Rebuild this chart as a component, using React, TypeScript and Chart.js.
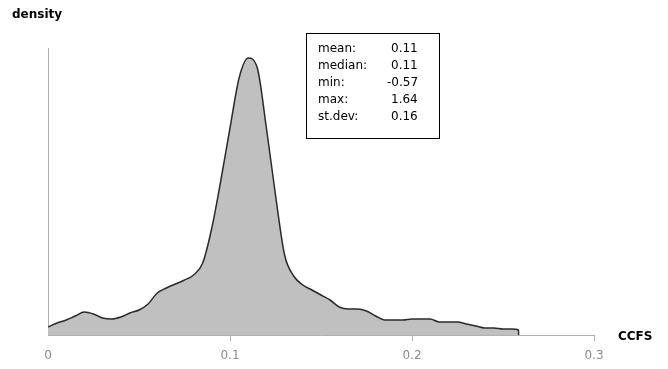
import React, { useEffect, useRef } from "react";
import { Chart, registerables } from "chart.js";

Chart.register(...registerables);

const xValues = [0, 0.005, 0.01, 0.015, 0.02, 0.025, 0.03, 0.035, 0.04, 0.045, 0.05, 0.055, 0.06, 0.065, 0.07, 0.075, 0.08, 0.085, 0.09, 0.095, 0.1, 0.105, 0.11, 0.115, 0.12, 0.125, 0.13, 0.135, 0.14, 0.145, 0.15, 0.155, 0.16, 0.165, 0.17, 0.175, 0.18, 0.185, 0.19, 0.195, 0.2, 0.205, 0.21, 0.215, 0.22, 0.225, 0.23, 0.235, 0.24, 0.245, 0.25, 0.255, 0.2585, 0.2586];
const densityValues = [0.4, 0.6, 0.75, 0.95, 1.15, 1.05, 0.85, 0.8, 0.9, 1.1, 1.25, 1.55, 2.1, 2.35, 2.55, 2.75, 3.0, 3.6, 5.35, 7.75, 10.35, 12.85, 13.85, 13.35, 10.35, 7.0, 4.0, 2.95, 2.5, 2.25, 2.0, 1.75, 1.4, 1.3, 1.3, 1.2, 0.95, 0.75, 0.75, 0.75, 0.8, 0.8, 0.8, 0.65, 0.65, 0.65, 0.55, 0.45, 0.35, 0.35, 0.3, 0.3, 0.25, 0];
const xTicks = [0, 0.1, 0.2, 0.3];
const statLabels = ["mean:", "median:", "min:", "max:", "st.dev:"];
const statValues = ["0.11", "0.11", "-0.57", "1.64", "0.16"];
const xTitle = "CCFS";
const yTitle = "density";

const overlay = {
  id: "overlay",
  afterDraw(chart: any) {
    const ctx = chart.ctx;
    const area = chart.chartArea;
    ctx.save();
    ctx.fillStyle = "#000";
    ctx.font = "bold 12px 'DejaVu Sans'";
    ctx.textBaseline = "middle";
    ctx.textAlign = "left";
    ctx.fillText(yTitle, 12, 15);
    ctx.fillText(xTitle, area.right + 24, area.bottom + 2);
    // stats box
    const bx = 306, by = 33, bw = 133, bh = 105;
    ctx.fillStyle = "#fff";
    ctx.fillRect(bx, by, bw, bh);
    ctx.strokeStyle = "#000";
    ctx.lineWidth = 1;
    ctx.strokeRect(bx + 0.5, by + 0.5, bw, bh);
    ctx.font = "12px 'DejaVu Sans'";
    ctx.fillStyle = "#000";
    statLabels.forEach((l, i) => {
      const y = by + 16 + i * 17;
      ctx.fillText(l, bx + 12, y);
      const v = statValues[i];
      ctx.fillText(v, bx + (v.startsWith("-") ? 81 : 85), y);
    });
    ctx.restore();
  },
};

export default function App() {
  const ref = useRef<HTMLCanvasElement>(null);
  useEffect(() => {
    const chart = new Chart(ref.current!, {
      type: "line",
      data: {
        datasets: [
          {
            data: xValues.map((x, i) => ({ x, y: densityValues[i] })),
            borderColor: "#2a2a2a",
            borderWidth: 1.5,
            backgroundColor: "#c0c0c0",
            fill: "origin",
            pointRadius: 0,
            cubicInterpolationMode: "monotone",
          },
        ],
      },
      options: {
        animation: false,
        responsive: false,
        maintainAspectRatio: false,
        layout: { padding: { left: 48, right: 74, top: 48, bottom: 0 } },
        plugins: { legend: { display: false }, tooltip: { enabled: false } },
        scales: {
          x: {
            type: "linear",
            min: 0,
            max: 0.3,
            afterBuildTicks: (s: any) => {
              s.ticks = xTicks.map((v) => ({ value: v }));
            },
            afterFit: (s: any) => {
              s.height = 34;
            },
            border: { color: "#b0b0b0", width: 1 },
            grid: {
              display: true,
              drawOnChartArea: false,
              drawTicks: true,
              tickLength: 6,
              color: (c: any) => (c.index === 0 ? "rgba(0,0,0,0)" : "#b0b0b0"),
            },
            ticks: {
              color: "#8a8a8a",
              font: { family: "'DejaVu Sans'", size: 12 },
              padding: 8,
              maxRotation: 0,
              callback: (v: any) => String(v),
            },
          },
          y: {
            type: "linear",
            min: 0,
            max: 14.35,
            afterFit: (s: any) => {
              s.width = 0;
            },
            border: { color: "#b0b0b0", width: 1 },
            grid: { display: false, drawTicks: false },
            ticks: { display: false },
          },
        },
      },
      plugins: [overlay],
    });
    return () => chart.destroy();
  }, []);
  return (
    <div style={{ position: "fixed", left: 0, top: 0, width: 668, height: 369, background: "#fff" }}>
      <canvas ref={ref} width={668} height={369} />
    </div>
  );
}
